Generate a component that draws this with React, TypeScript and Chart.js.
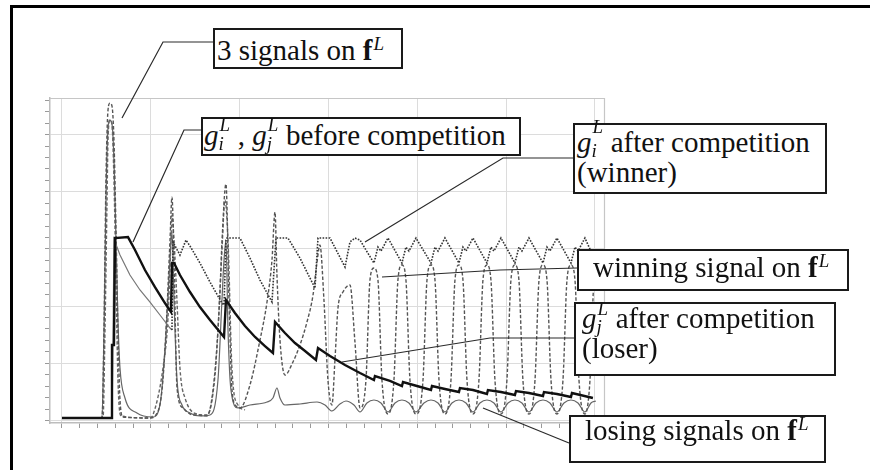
import React, { useEffect, useRef } from "react";
import { Chart, registerables } from "chart.js";

Chart.register(...registerables);

// Tick positions (arbitrary units): minor every 2, major grid every 10
const xTicks = [0, 2, 4, 6, 8, 10, 12, 14, 16, 18, 20, 22, 24, 26, 28, 30, 32, 34, 36, 38, 40, 42, 44, 46, 48, 50, 52, 54, 56, 58, 60];
const yTicks = [0, 2, 4, 6, 8, 10, 12, 14, 16, 18, 20, 22, 24, 26, 28, 30, 32, 34, 36, 38, 40, 42, 44, 46, 48, 50, 52, 54, 56];

// g_j^L : loser (thick solid)
const gjLoser: [number, number][] = [
  [0, 0.44], [5.63, 0.44], [5.63, 13.2], [5.85, 13.2], [5.97, 31.91], [7.43, 32.08], [8.22, 29.81], [9.34, 26.31],
  [10.47, 23.34], [11.59, 20.54], [12.27, 18.97], [12.38, 27.54], [12.61, 27.54], [13.28, 25.44], [14.41, 22.47],
  [15.53, 19.84], [16.66, 17.57], [18.24, 14.6], [18.46, 21.07], [19.47, 18.79], [20.6, 16.52], [21.73, 14.6],
  [22.85, 13.02], [23.75, 11.8], [23.98, 17.22], [25.1, 15.3], [26.23, 13.55], [27.36, 12.15], [28.59, 10.58],
  [28.82, 12.68], [30.17, 11.28], [31.86, 9.7], [33.55, 8.3], [35.12, 7.08], [35.23, 7.78], [36.92, 6.91],
  [38.27, 6.03], [38.39, 6.73], [39.96, 6.03], [41.54, 5.33], [41.65, 6.03], [43.11, 5.51], [44.69, 4.98],
  [44.8, 5.68], [46.27, 5.33], [47.84, 4.63], [47.95, 5.33], [49.42, 4.98], [50.99, 4.46], [51.11, 5.16],
  [52.57, 4.81], [54.15, 4.28], [54.26, 4.98], [55.72, 4.63], [57.3, 4.11], [57.41, 4.81], [59.77, 3.93],
];

// g_i^L : winner (dotted), thin solid before competition
const giWinner: [number, number][] = [
  [0, 0.44], [5.63, 0.44], [5.74, 13.2], [5.85, 31.73], [6.53, 28.93], [7.65, 25.44], [8.78, 22.82], [9.91, 20.72],
  [11.03, 18.45], [12.16, 16.17], [12.38, 15.82], [12.5, 31.21], [13.28, 28.93], [13.96, 31.56], [14.41, 30.51],
  [15.53, 27.54], [16.66, 24.21], [18.01, 20.54], [18.24, 20.19], [18.46, 31.56], [18.57, 31.91], [20.04, 31.91],
  [21.16, 28.41], [22.29, 24.56], [23.64, 20.72], [24.09, 31.91], [25.44, 31.91], [26.79, 28.41], [28.48, 23.16],
  [28.82, 31.91], [30.17, 31.91], [31.86, 26.84], [32.42, 31.21], [32.98, 31.91], [33.55, 31.56], [34.22, 29.81],
  [35.12, 27.54], [35.57, 30.33], [35.91, 29.63], [36.7, 31.91],
  [38.27, 27.54], [38.72, 30.33], [39.06, 29.63], [39.85, 31.91],
  [41.54, 27.54], [41.99, 30.33], [42.33, 29.63], [43.11, 31.91],
  [44.69, 27.54], [45.14, 30.33], [45.48, 29.63], [46.27, 31.91],
  [47.84, 27.54], [48.29, 30.33], [48.63, 29.63], [49.42, 31.91],
  [50.99, 27.54], [51.44, 30.33], [51.78, 29.63], [52.57, 31.91],
  [54.15, 27.54], [54.6, 30.33], [54.93, 29.63], [55.72, 31.91],
  [57.3, 27.54], [57.75, 30.33], [58.09, 29.63], [58.87, 31.91],
  [60.11, 27.71],
];

// winning signal on f^L (dashed)
const winSignal: [number, number][] = [
  [0, 0.44], [4.5, 0.44], [4.73, 15.82], [4.95, 42.05], [5.18, 54.28], [5.4, 55.51], [5.63, 54.98], [5.85, 49.04],
  [6.08, 33.31], [6.3, 15.82], [6.53, 3.58], [6.87, 0.61], [9.91, 0.44], [10.47, 0.79], [11.26, 5.33], [11.71, 15.82],
  [12.16, 31.56], [12.38, 39.07], [12.61, 28.06], [12.95, 5.68], [13.62, 2.19], [14.75, 0.96], [16.32, 0.96],
  [17.22, 7.95], [17.79, 22.82], [18.01, 31.21], [18.46, 41.35], [18.8, 21.07], [19.14, 5.33], [19.59, 2.54],
  [20.04, 2.19], [21.16, 6.21], [22.29, 14.07], [23.08, 20.72], [23.64, 28.06], [23.98, 36.45], [24.2, 25.44],
  [24.54, 14.07], [25.1, 7.95], [26.0, 10.23], [26.79, 13.2], [27.58, 17.22], [28.26, 21.94], [28.71, 27.71],
  [29.04, 30.68], [29.49, 21.07], [29.94, 7.08], [30.39, 2.71], [30.73, 10.58], [31.07, 19.67], [31.63, 22.47],
  [32.42, 23.69], [32.98, 13.72], [33.55, 2.19],
  [34.22, 7.08], [34.67, 24.56], [35.12, 26.66], [35.57, 24.56], [36.02, 7.08], [36.7, 1.14],
  [37.37, 7.08], [37.82, 24.56], [38.27, 27.19], [38.72, 24.56], [39.17, 7.08], [39.85, 1.14],
  [40.64, 7.08], [41.09, 24.56], [41.54, 27.19], [41.99, 24.56], [42.44, 7.08], [43.11, 1.14],
  [43.79, 7.08], [44.24, 24.56], [44.69, 27.19], [45.14, 24.56], [45.59, 7.08], [46.27, 1.14],
  [46.94, 7.08], [47.39, 24.56], [47.84, 27.19], [48.29, 24.56], [48.74, 7.08], [49.42, 1.14],
  [50.09, 7.08], [50.54, 24.56], [50.99, 27.19], [51.44, 24.56], [51.89, 7.08], [52.57, 1.14],
  [53.25, 7.08], [53.7, 24.56], [54.15, 27.19], [54.6, 24.56], [55.05, 7.08], [55.72, 1.14],
  [56.4, 7.08], [56.85, 24.56], [57.3, 27.19], [57.75, 24.56], [58.2, 7.08], [58.87, 1.14],
  [59.44, 7.08], [59.89, 24.56], [60.34, 27.19],
];

// second signal on f^L (dashed, early part)
const signal2: [number, number][] = [
  [0, 0.44], [4.62, 0.44], [4.84, 15.82], [5.07, 38.55], [5.18, 49.04], [5.4, 52.53], [5.63, 51.66], [5.85, 42.05],
  [6.08, 24.56], [6.3, 7.08], [6.64, 0.79], [9.91, 0.44], [10.24, 0.96], [11.37, 9.18], [11.93, 17.92], [12.27, 31.56],
  [12.38, 35.93], [12.61, 31.56], [12.95, 20.72], [13.28, 9.18], [13.85, 3.93], [15.53, 0.96], [16.32, 0.79],
  [17.0, 5.33], [17.56, 15.82], [18.01, 29.81], [18.35, 38.55], [18.69, 31.56], [19.14, 8.83], [19.81, 2.71],
  [20.6, 1.84],
];

// losing signals on f^L (thin solid)
const loseSignal: [number, number][] = [
  [0, 0.44], [4.5, 0.44], [4.73, 15.82], [4.95, 38.55], [5.18, 51.13], [5.4, 52.53], [5.63, 51.83], [5.85, 45.54],
  [6.08, 31.56], [6.3, 17.57], [6.53, 9.18], [7.09, 3.93], [8.44, 1.31], [10.24, 0.61], [11.03, 2.71], [11.59, 12.33],
  [12.16, 28.06], [12.38, 32.96], [12.61, 21.07], [12.95, 7.08], [13.51, 2.71], [14.41, 1.31], [15.53, 0.79],
  [16.66, 0.96], [17.56, 7.08], [18.01, 21.07], [18.24, 28.06], [18.46, 31.56], [18.69, 15.82], [19.02, 5.33],
  [19.81, 2.19], [21.16, 2.71], [23.08, 3.23], [23.75, 3.93], [24.2, 5.68], [24.54, 3.93], [25.1, 2.71],
  [26.79, 2.88], [28.71, 3.23], [29.61, 2.71], [30.39, 1.66], [31.29, 2.88], [31.97, 3.41], [32.87, 2.71],
  [33.55, 1.49],
  [34.33, 3.06], [35.12, 3.58], [35.91, 3.06], [36.7, 1.49],
  [37.49, 3.06], [38.27, 3.58], [39.06, 3.06], [39.85, 1.49],
  [40.75, 3.06], [41.54, 3.58], [42.33, 3.06], [43.11, 1.49],
  [43.9, 3.06], [44.69, 3.58], [45.48, 3.06], [46.27, 1.49],
  [47.05, 3.06], [47.84, 3.58], [48.63, 3.06], [49.42, 1.49],
  [50.21, 3.06], [50.99, 3.58], [51.78, 3.06], [52.57, 1.49],
  [53.36, 3.06], [54.15, 3.58], [54.93, 3.06], [55.72, 1.49],
  [56.51, 3.06], [57.3, 3.58], [58.09, 3.06], [58.87, 1.49],
  [59.55, 3.06], [60.11, 3.41],
];

// leader lines from the label boxes (page pixels)
const leaders: [number, number][][] = [
  [[213, 42], [163, 42], [122, 118]],
  [[201, 130], [184, 130], [133, 242]],
  [[573, 158], [503, 158], [365, 242]],
  [[577, 268], [500, 270], [382, 277]],
  [[574, 338], [490, 338], [342, 362]],
  [[569, 443], [483, 408]],
];

const framePlugin = {
  id: "frameAndLeaders",
  beforeDatasetsDraw(chart: any) {
    const { ctx, chartArea: a } = chart;
    ctx.save();
    ctx.strokeStyle = "#c6c6c6";
    ctx.lineWidth = 1.2;
    ctx.beginPath();
    ctx.moveTo(a.left, a.top + 0.5);
    ctx.lineTo(a.right - 0.5, a.top + 0.5);
    ctx.lineTo(a.right - 0.5, a.bottom);
    ctx.stroke();
    ctx.restore();
  },
  afterDraw(chart: any) {
    const { ctx } = chart;
    ctx.save();
    ctx.strokeStyle = "#2a2a2a";
    ctx.lineWidth = 1.2;
    leaders.forEach((pts) => {
      ctx.beginPath();
      pts.forEach(([x, y], i) => (i === 0 ? ctx.moveTo(x, y) : ctx.lineTo(x, y)));
      ctx.stroke();
    });
    ctx.restore();
  },
};

const serif = '"Liberation Serif", "Times New Roman", serif';

function Sym(props: { base: string; bold?: boolean; sub?: string; sup?: string; raise?: number; w?: number }) {
  const raise = props.raise ?? 14;
  return (
    <span>
      {props.bold ? <b>{props.base}</b> : <i>{props.base}</i>}
      <span style={{ position: "relative", display: "inline-block", width: props.w ?? 12, height: 0 }}>
        {props.sup && (
          <span style={{ position: "absolute", left: 1, top: -raise - 16, fontSize: 19, lineHeight: "19px", fontStyle: "italic", fontWeight: 400 }}>
            {props.sup}
          </span>
        )}
        {props.sub && (
          <span style={{ position: "absolute", left: 0, top: 5 - 16, fontSize: 19, lineHeight: "19px", fontStyle: "italic" }}>
            {props.sub}
          </span>
        )}
      </span>
    </span>
  );
}

function Box(props: { left: number; top: number; width: number; height: number; padLeft: number; off: number; children: React.ReactNode }) {
  return (
    <div
      style={{
        position: "absolute",
        left: props.left,
        top: props.top,
        width: props.width,
        height: props.height,
        boxSizing: "border-box",
        border: "2px solid #1a1a1a",
        background: "#fff",
        fontFamily: serif,
        fontSize: 29,
        lineHeight: "30px",
        color: "#111",
        whiteSpace: "nowrap",
        paddingLeft: props.padLeft,
      }}
    >
      <div style={{ position: "relative", top: props.off }}>{props.children}</div>
    </div>
  );
}

export default function App() {
  const ref = useRef<HTMLCanvasElement>(null);

  useEffect(() => {
    const canvas = ref.current;
    if (!canvas) return;
    const mk = (pts: [number, number][]) => pts.map(([x, y]) => ({ x, y }));
    const dashedSignal = {
      borderColor: "#555",
      borderWidth: 1.4,
      borderDash: [3.5, 2],
      cubicInterpolationMode: "monotone" as const,
      pointRadius: 0,
      fill: false,
    };
    const chart = new Chart(canvas, {
      type: "line",
      data: {
        datasets: [
          { label: "gj loser", data: mk(gjLoser), borderColor: "#111", borderWidth: 2.4, tension: 0, pointRadius: 0, fill: false },
          {
            label: "gi winner",
            data: mk(giWinner),
            borderColor: "#333",
            borderWidth: 1.6,
            borderDash: [1.6, 1.4],
            tension: 0,
            pointRadius: 0,
            fill: false,
            segment: {
              borderDash: (c: any) => (c.p1.parsed.x <= 12.39 ? [] : undefined),
              borderColor: (c: any) => (c.p1.parsed.x <= 12.39 ? "#777" : undefined),
              borderWidth: (c: any) => (c.p1.parsed.x <= 12.39 ? 1.2 : undefined),
            },
          },
          { label: "winning signal", data: mk(winSignal), ...dashedSignal },
          { label: "signal 2", data: mk(signal2), ...dashedSignal, borderColor: "#666" },
          { label: "losing signal", data: mk(loseSignal), borderColor: "#666", borderWidth: 1.2, cubicInterpolationMode: "monotone", pointRadius: 0, fill: false },
        ],
      } as any,
      options: {
        animation: false,
        responsive: false,
        maintainAspectRatio: false,
        events: [],
        layout: { padding: { left: 45, top: 98, right: 265, bottom: 42 } },
        plugins: { legend: { display: false }, tooltip: { enabled: false } },
        scales: {
          x: {
            type: "linear",
            min: -1.35,
            max: 61.13,
            afterBuildTicks: (s: any) => {
              s.ticks = xTicks.map((v) => ({ value: v }));
            },
            ticks: { display: false },
            grid: {
              color: (c: any) => (c.tick && c.tick.value % 10 === 0 ? "#dcdcdc" : "rgba(0,0,0,0)"),
              tickColor: "#9a9a9a",
              tickLength: 5,
              tickWidth: 1,
              lineWidth: 1,
            },
            border: { color: "#bdbdbd", width: 1.5 },
          },
          y: {
            type: "linear",
            min: -0.44,
            max: 56.4,
            afterBuildTicks: (s: any) => {
              s.ticks = yTicks.map((v) => ({ value: v }));
            },
            ticks: { display: false },
            grid: {
              color: (c: any) => (c.tick && c.tick.value % 10 === 0 ? "#dcdcdc" : "rgba(0,0,0,0)"),
              tickColor: "#9a9a9a",
              tickLength: 5,
              tickWidth: 1,
              lineWidth: 1,
            },
            border: { color: "#bdbdbd", width: 1.5 },
          },
        },
      } as any,
      plugins: [framePlugin],
    });
    return () => chart.destroy();
  }, []);

  return (
    <div style={{ position: "absolute", left: 0, top: 0, width: 870, height: 470, overflow: "hidden", background: "#fff" }}>
      <canvas ref={ref} width={870} height={470} style={{ position: "absolute", left: 0, top: 0, width: 870, height: 470 }} />
      <div style={{ position: "absolute", left: 10, top: 5, width: 880, height: 480, borderLeft: "3px solid #000", borderTop: "3px solid #000", pointerEvents: "none" }} />
      <Box left={213} top={28} width={190} height={41} padLeft={2} off={5}>
        3 signals on <Sym base="f" bold sup="L" raise={10} w={11} />
      </Box>
      <Box left={201} top={117} width={320} height={39} padLeft={1} off={1}>
        <Sym base="g" sub="i" sup="L" /> , <Sym base="g" sub="j" sup="L" /> before competition
      </Box>
      <Box left={573} top={123} width={254} height={71} padLeft={2} off={2}>
        <div>
          <Sym base="g" sub="i" sup="L" raise={19} /> after competition
        </div>
        <div>(winner)</div>
      </Box>
      <Box left={577} top={249} width={272} height={42} padLeft={14} off={1}>
        winning signal on <Sym base="f" bold sup="L" raise={10} w={11} />
      </Box>
      <Box left={574} top={302} width={262} height={74} padLeft={6} off={-1}>
        <div>
          <Sym base="g" sub="j" sup="L" raise={13} /> after competition
        </div>
        <div>(loser)</div>
      </Box>
      <Box left={569} top={415} width={257} height={48} padLeft={14} off={-2}>
        losing signals on <Sym base="f" bold sup="L" raise={10} w={11} />
      </Box>
    </div>
  );
}
